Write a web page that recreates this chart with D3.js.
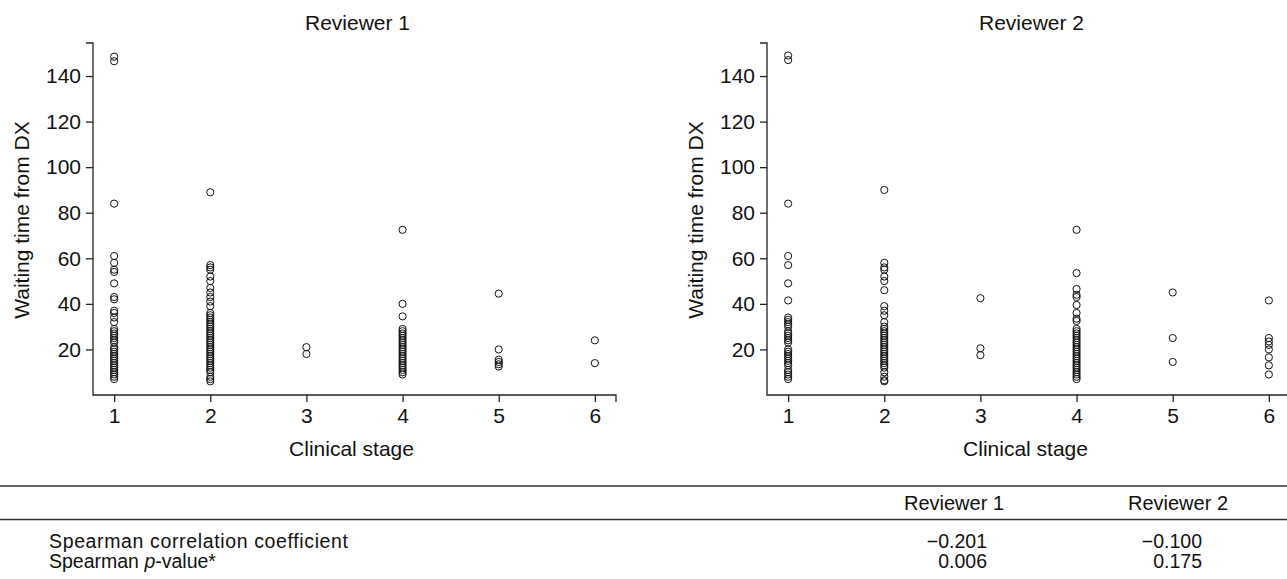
<!DOCTYPE html>
<html>
<head>
<meta charset="utf-8">
<script src="https://cdn.jsdelivr.net/npm/d3@7"></script>
<style>
  body { margin: 0; background: #fff; }
  text { font-family: "Liberation Sans", Arial, sans-serif; fill: #111; }
</style>
</head>
<body>
<script>
const width = 1287;
const height = 579;

// clinical stage categories and y ticks
const stages = [1, 2, 3, 4, 5, 6];
const yTicks = [20, 40, 60, 80, 100, 120, 140];

// waiting time from DX, one list per stage
const rev1Stage1 = [148.5, 146.5, 84, 61, 58, 55, 54, 49, 43, 42, 37, 36, 34, 32, 29, 28, 27, 26, 25, 24, 23, 21, 20, 19, 18, 17, 16, 15, 14, 13, 12, 11, 10, 9, 8, 7];
const rev1Stage2 = [89, 57, 56, 55, 52, 50, 47, 45, 43, 41, 39, 36, 35, 34, 33, 32, 31, 30, 29, 28, 27, 26, 25, 24, 23, 22, 21, 20, 19, 18, 17, 16, 15, 14, 13, 12, 11, 10, 8, 7, 6];
const rev1Stage3 = [21, 18];
const rev1Stage4 = [72.5, 40, 34.5, 29, 28, 27, 26, 25, 24, 23, 22, 21, 20, 19, 18, 17, 16, 15, 14, 13, 12, 11, 10, 9];
const rev1Stage5 = [44.5, 20, 15.5, 14.5, 13.5, 12.5];
const rev1Stage6 = [24, 14];

const rev2Stage1 = [149, 147, 84, 61, 57, 49, 41.5, 34, 33, 32, 31, 30, 28, 27, 26, 25, 24, 23, 20, 19, 18, 17, 16, 15, 14, 13, 11, 10, 9, 8, 7];
const rev2Stage2 = [90, 58, 56, 55, 52, 50, 46, 39, 37, 35, 32, 30, 29, 28, 27, 26, 25, 24, 23, 22, 21, 20, 19, 18, 17, 16, 15, 14, 13, 12, 10, 8, 6.5, 6];
const rev2Stage3 = [42.5, 20.5, 17.5];
const rev2Stage4 = [72.5, 53.5, 46.5, 44, 43, 39.5, 36, 33.5, 32.5, 29, 28, 27, 26, 25, 24, 23, 22, 21, 20, 19, 18, 17, 16, 15, 14, 13, 12, 11, 10, 9, 8, 7];
const rev2Stage5 = [45, 25, 14.5];
const rev2Stage6 = [41.5, 25, 23.5, 22, 20, 16.5, 13, 9];

// table
const tableCols = ["Reviewer 1", "Reviewer 2"];
const spearmanR = ["\u22120.201", "\u22120.100"];
const spearmanP = ["0.006", "0.175"];

function toPoints(lists) {
    let pts = [];
    lists.forEach((vals, i) => vals.forEach(v => pts.push({stage: stages[i], value: v})));
    return pts;
}

const svg = d3.select("body")
    .append("svg")
    .attr("width", width)
    .attr("height", height)
    .style("display", "block");

function drawPanel(left, title, points) {
    const plotW = 523;
    const x = d3.scaleLinear().domain([0.78, 6.22]).range([left, left + plotW]);
    const y = d3.scaleLinear().domain([0, 154.5]).range([395, 43]);
    const g = svg.append("g");

    // y axis
    g.append("g")
        .attr("transform", `translate(${left},0)`)
        .call(d3.axisLeft(y).tickValues(yTicks).tickSize(7).tickPadding(5))
        .call(a => a.select(".domain").remove())
        .call(a => a.selectAll("line").attr("stroke", "#222").attr("stroke-width", 1.3))
        .call(a => a.selectAll("text").attr("font-size", 21).attr("fill", "#111")
            .style("font-family", "'Liberation Sans', Arial, sans-serif"));

    // x axis
    g.append("g")
        .attr("transform", "translate(0,395)")
        .call(d3.axisBottom(x).tickValues(stages).tickFormat(d3.format("d")).tickSize(7).tickPadding(6))
        .call(a => a.select(".domain").remove())
        .call(a => a.selectAll("line").attr("stroke", "#222").attr("stroke-width", 1.3))
        .call(a => a.selectAll("text").attr("font-size", 21).attr("fill", "#111")
            .style("font-family", "'Liberation Sans', Arial, sans-serif"));

    // axis lines with the end caps
    const x0 = x.range()[0], x1 = x.range()[1];
    const y0 = y.range()[0], y1 = y.range()[1];
    g.append("path")
        .attr("d", `M${x0 - 7},${y1}H${x0}V${y0}H${x1}V${y0 + 7}`)
        .attr("fill", "none")
        .attr("stroke", "#222")
        .attr("stroke-width", 1.3);

    g.selectAll("circle")
        .data(points)
        .enter()
        .append("circle")
        .attr("cx", d => x(d.stage))
        .attr("cy", d => y(d.value))
        .attr("r", 3.6)
        .attr("fill", "none")
        .attr("stroke", "#111")
        .attr("stroke-width", 1);

    const cx = (x0 + x1) / 2;
    g.append("text").attr("x", cx + 3).attr("y", 30)
        .attr("text-anchor", "middle").attr("font-size", 21).text(title);
    g.append("text").attr("x", cx - 3).attr("y", 456)
        .attr("text-anchor", "middle").attr("font-size", 21).text("Clinical stage");
    g.append("text")
        .attr("transform", `translate(${left - 64},220) rotate(-90)`)
        .attr("text-anchor", "middle").attr("font-size", 21).text("Waiting time from DX");
}

drawPanel(93, "Reviewer 1", toPoints([rev1Stage1, rev1Stage2, rev1Stage3, rev1Stage4, rev1Stage5, rev1Stage6]));
drawPanel(767, "Reviewer 2", toPoints([rev2Stage1, rev2Stage2, rev2Stage3, rev2Stage4, rev2Stage5, rev2Stage6]));

// table under the plots
const tbl = svg.append("g");
[486, 519.5].forEach(yy => {
    tbl.append("line").attr("x1", 0).attr("x2", width).attr("y1", yy).attr("y2", yy)
        .attr("stroke", "#333").attr("stroke-width", 1.3);
});
const headX = [954, 1178];
const valX = [987, 1202];
tableCols.forEach((c, i) => {
    tbl.append("text").attr("x", headX[i]).attr("y", 510)
        .attr("text-anchor", "middle").attr("font-size", 20).text(c);
    tbl.append("text").attr("x", valX[i]).attr("y", 548)
        .attr("text-anchor", "end").attr("font-size", 19.5).text(spearmanR[i]);
    tbl.append("text").attr("x", valX[i]).attr("y", 568)
        .attr("text-anchor", "end").attr("font-size", 19.5).text(spearmanP[i]);
});
tbl.append("text").attr("x", 49).attr("y", 548).attr("font-size", 19.5)
    .attr("textLength", 299).attr("lengthAdjust", "spacing")
    .text("Spearman correlation coefficient");
const pv = tbl.append("text").attr("x", 49).attr("y", 568).attr("font-size", 19.5);
pv.append("tspan").text("Spearman ");
pv.append("tspan").attr("font-style", "italic").text("p");
pv.append("tspan").text("-value*");
</script>
</body>
</html>
